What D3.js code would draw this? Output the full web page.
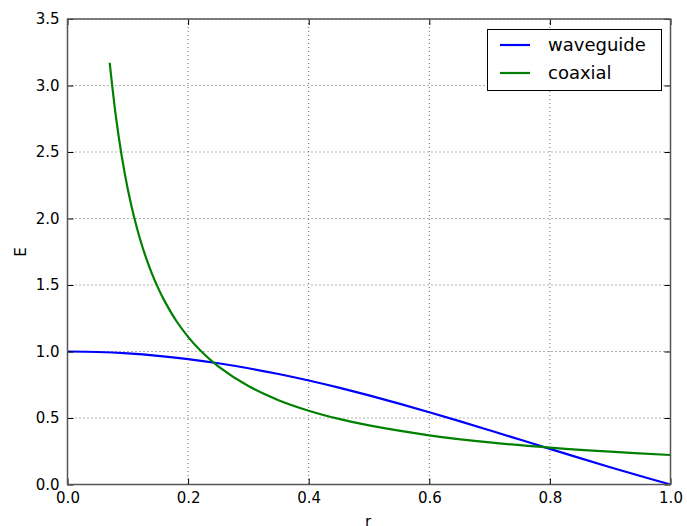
<!DOCTYPE html>
<html><head><meta charset="utf-8">
<script src="https://cdn.jsdelivr.net/npm/d3@7"></script>
<style>body{margin:0;background:#fff}svg{display:block}text{font-family:"DejaVu Sans",sans-serif}</style>
</head><body>
<script>
const waveR = [0,0.05,0.1,0.15,0.2,0.25,0.3,0.35,0.4,0.45,0.5,0.55,0.6,0.65,0.7,0.75,0.8,0.85,0.9,0.95,1.0];
const waveE = [1,0.9964,0.9856,0.9677,0.943,0.9117,0.8741,0.8306,0.7817,0.7279,0.6699,0.6082,0.5434,0.4763,0.4075,0.3378,0.2679,0.1984,0.1302,0.0638,0];
const coaxR = [0.07,0.08,0.09,0.10,0.11,0.12,0.13,0.14,0.15,0.16,0.18,0.20,0.22,0.25,0.30,0.35,0.40,0.45,0.5,0.6,0.7,0.8,0.9,1.0];
const coaxE = [3.171,2.775,2.467,2.22,2.018,1.85,1.708,1.586,1.48,1.388,1.233,1.11,1.009,0.888,0.74,0.634,0.555,0.493,0.444,0.37,0.317,0.2775,0.247,0.222];
const xTicks = [0.0,0.2,0.4,0.6,0.8,1.0];
const yTicks = [0.0,0.5,1.0,1.5,2.0,2.5,3.0,3.5];
const seriesNames = ["waveguide","coaxial"];
const seriesColors = ["#0000ff","#008000"];

const W=687,H=526, L=67.5, R=670.5, T=19, B=484.5;
const svg=d3.select("body").append("svg").attr("width",W).attr("height",H);
const x=d3.scaleLinear().domain([0,1]).range([L,R]);
const y=d3.scaleLinear().domain([0,3.5]).range([B,T]);

// grid
const g=svg.append("g");
xTicks.forEach(t=>g.append("line").attr("x1",x(t)).attr("x2",x(t)).attr("y1",T).attr("y2",B).attr("stroke","#000").attr("stroke-width",0.6).attr("stroke-dasharray","1,3"));
yTicks.forEach(t=>g.append("line").attr("x1",L).attr("x2",R).attr("y1",y(t)).attr("y2",y(t)).attr("stroke","#000").attr("stroke-width",0.6).attr("stroke-dasharray","1,3"));

svg.append("clipPath").attr("id","c").append("rect").attr("x",L).attr("y",T).attr("width",R-L).attr("height",B-T);
const line=d3.line().x(d=>x(d[0])).y(d=>y(d[1])).curve(d3.curveCatmullRom);
svg.append("path").datum(waveR.map((r,i)=>[r,waveE[i]])).attr("d",line).attr("fill","none").attr("stroke",seriesColors[0]).attr("stroke-width",2.2).attr("clip-path","url(#c)");
svg.append("path").datum(coaxR.map((r,i)=>[r,coaxE[i]])).attr("d",line).attr("fill","none").attr("stroke",seriesColors[1]).attr("stroke-width",2.2).attr("clip-path","url(#c)");

// axes (ticks inward, all sides)
const fmt=d3.format(".1f");
const ax=d3.axisBottom(x).tickValues(xTicks).tickFormat(fmt).tickSizeInner(-6).tickSizeOuter(0).tickPadding(8);
const ay=d3.axisLeft(y).tickValues(yTicks).tickFormat(fmt).tickSizeInner(-6).tickSizeOuter(0).tickPadding(8);
const axT=d3.axisTop(x).tickValues(xTicks).tickFormat("").tickSizeInner(-6).tickSizeOuter(0);
const ayR=d3.axisRight(y).tickValues(yTicks).tickFormat("").tickSizeInner(-6).tickSizeOuter(0);
function style(sel){sel.select(".domain").remove();sel.selectAll("line").attr("stroke","#000").attr("stroke-width",1);sel.selectAll("text").attr("font-size",15).attr("fill","#000").attr("font-family","DejaVu Sans");}
svg.append("g").attr("transform",`translate(0,${B})`).call(ax).call(style);
svg.append("g").attr("transform",`translate(${L},0)`).call(ay).call(style);
svg.append("g").attr("transform",`translate(0,${T})`).call(axT).call(style);
svg.append("g").attr("transform",`translate(${R},0)`).call(ayR).call(style);
svg.append("rect").attr("x",L).attr("y",T).attr("width",R-L).attr("height",B-T).attr("fill","none").attr("stroke","#555").attr("stroke-width",1.5);

svg.append("text").attr("x",368).attr("y",527).attr("text-anchor","middle").attr("font-size",15).text("r");
svg.append("text").attr("transform",`translate(26,${252}) rotate(-90)`).attr("text-anchor","middle").attr("font-size",15).text("E");

// legend
const lg=svg.append("g");
lg.append("rect").attr("x",487.5).attr("y",29.5).attr("width",174).attr("height",61).attr("fill","#fff").attr("stroke","#000").attr("stroke-width",1);
seriesNames.forEach((n,i)=>{
  const yy=45+i*28;
  lg.append("line").attr("x1",500).attr("x2",530).attr("y1",yy).attr("y2",yy).attr("stroke",seriesColors[i]).attr("stroke-width",2.2);
  lg.append("text").attr("x",548).attr("y",yy+6).attr("font-size",18).attr("fill","#000").text(n);
});
</script>
</body></html>
